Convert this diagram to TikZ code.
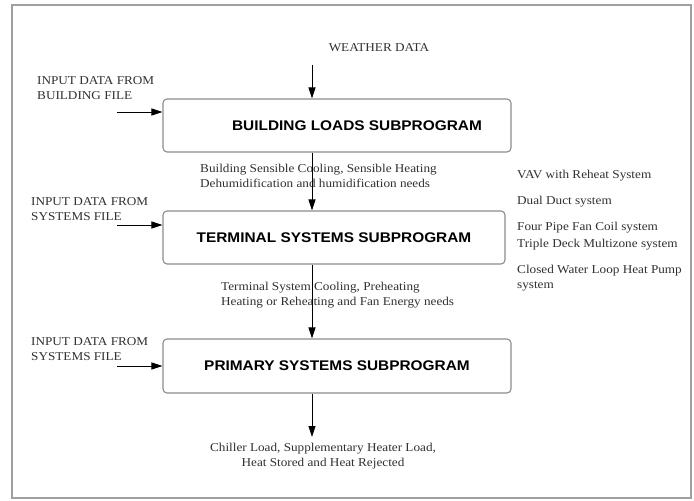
\documentclass[tikz,border=0pt]{standalone}
\usepackage{fontspec}
\setmainfont{Liberation Serif}[FakeStretch=1.1]
\setsansfont{Liberation Sans}[FakeStretch=1.1]
\usetikzlibrary{arrows.meta,positioning}
\definecolor{frgray}{HTML}{A0A0A0}
\definecolor{bxgray}{HTML}{8C8C8C}
\definecolor{txgray}{HTML}{303030}

\begin{document}
\begin{tikzpicture}[x=1pt,y=-1pt,
 box/.style={draw=bxgray,line width=1.1pt,rounded corners=4pt,minimum height=53pt,
   inner sep=0pt,font=\sffamily\bfseries\fontsize{14}{16}\selectfont},
 note/.style={inner sep=0pt,align=left,text=txgray,font=\fontsize{12}{15}\selectfont},
 arr/.style={-{Triangle[length=11pt,width=7pt]},line width=0.8pt}]
\useasboundingbox (0,0) rectangle (694,501);
\draw[frgray,line width=1.3pt] (12,5) rectangle (691,498);
% subprogram boxes
\node[box,minimum width=348pt] (bld) at (337,125.5) {\hspace*{40pt}BUILDING LOADS SUBPROGRAM};
\node[box,minimum width=342pt] (term) at (334,237.5) {TERMINAL SYSTEMS SUBPROGRAM};
\node[box,minimum width=348pt,minimum height=54pt] (prim) at (337,366) {PRIMARY SYSTEMS SUBPROGRAM};
% texts
\node[note,anchor=base] (wth) at (379,51) {WEATHER DATA};
\node[note,anchor=west] (inbld) at (37,88.5) {INPUT DATA FROM\\BUILDING FILE};
\node[note,anchor=west] (interm) at (31,209.5) {INPUT DATA FROM\\SYSTEMS FILE};
\node[note,anchor=west] (inprim) at (31,349) {INPUT DATA FROM\\SYSTEMS FILE};
\node[note,anchor=west] (bldout) at (200,175.5) {Building Sensible Cooling, Sensible Heating\\Dehumidification and humidification needs};
\node[note,anchor=west] (termout) at (221,295.5) {Terminal System Cooling, Preheating\\Heating or Reheating and Fan Energy needs};
\node[note,align=center] (primout) at (323,456) {Chiller Load, Supplementary Heater Load,\\Heat Stored and Heat Rejected};
\node[note,anchor=west] (s1) at (517,176) {VAV with Reheat System};
\node[note,anchor=west] (s2) at (517,202) {Dual Duct system};
\node[note,anchor=west] (s3) at (517,228) {Four Pipe Fan Coil system};
\node[note,anchor=west] (s4) at (517,245) {Triple Deck Multizone system};
\node[note,anchor=west] (s5) at (517,278.5) {Closed Water Loop Heat Pump\\system};
% connectors
\coordinate (wtop) at (312,65);
\coordinate (iA) at (117,112);
\coordinate (iB) at (117,225);
\coordinate (iC) at (117,366);
\coordinate (pend) at (312,437);
\draw[arr] (wtop) -- (wtop |- bld.north);
\draw[arr] (bld.south -| wtop) -- (term.north -| wtop);
\draw[arr] (term.south -| wtop) -- (prim.north -| wtop);
\draw[arr] (prim.south -| pend) -- (pend);
\draw[arr] (iA) -- (iA -| bld.west);
\draw[arr] (iB) -- (iB -| term.west);
\draw[arr] (iC) -- (iC -| prim.west);
\end{tikzpicture}
\end{document}
